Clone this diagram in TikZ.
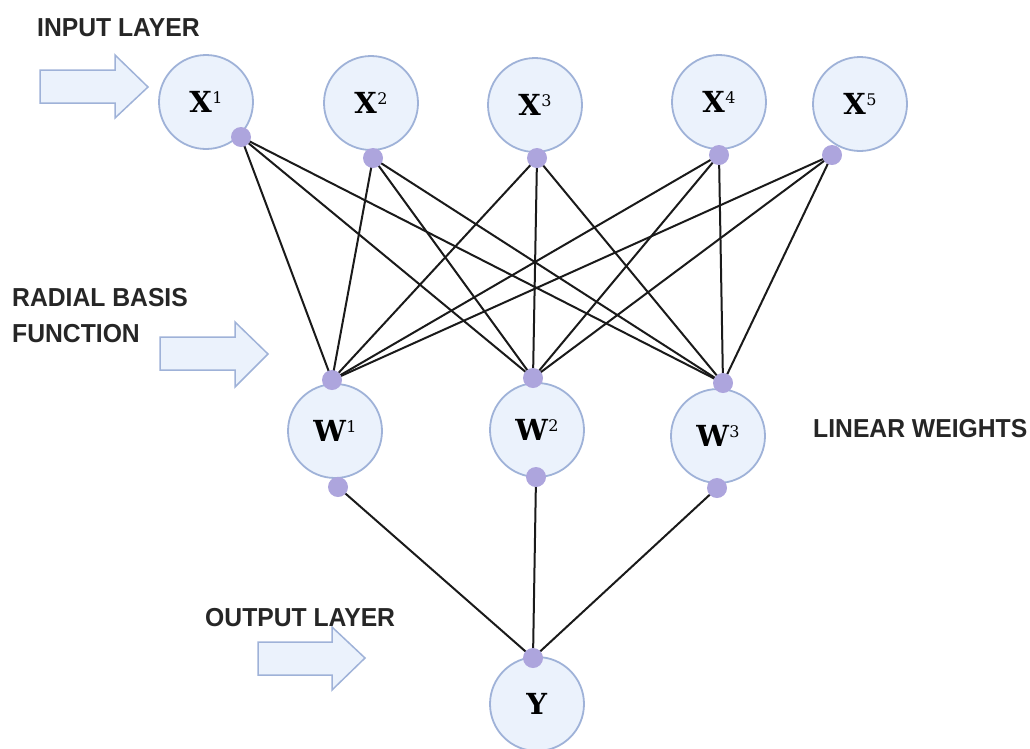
\documentclass[tikz,border=0pt]{standalone}
\usepackage{fontspec}
\setmainfont{Liberation Sans}
\newfontfamily\headfont[FakeStretch=0.95]{Liberation Sans Bold}
\newfontfamily\symfont{DejaVu Serif}
\usetikzlibrary{backgrounds}

\definecolor{cellfill}{HTML}{EBF2FC}
\definecolor{cellline}{HTML}{9FB2D8}
\definecolor{dotfill}{HTML}{ADA5DD}
\definecolor{wire}{HTML}{1A1A1A}
\definecolor{headtext}{HTML}{262626}

% neuron label: bold letter with a light raised index
\newcommand{\neur}[2]{{\symfont\bfseries\fontsize{29}{29}\selectfont #1}\kern0.5pt\raisebox{9.5pt}{\symfont\fontsize{16}{16}\selectfont #2}}

\tikzset{
  neuron/.style={circle, minimum size=94pt, inner sep=0pt, fill=cellfill, draw=cellline, line width=1.8pt},
  port/.style={circle, minimum size=20pt, inner sep=0pt, fill=dotfill},
  wirepath/.style={draw=wire, line width=2pt},
  heading/.style={anchor=base west, inner sep=0pt, text=headtext, font=\headfont\fontsize{26}{26}\selectfont},
  blockarrow/.style={fill=cellfill, draw=cellline, line width=1.5pt, line join=miter}
}

\begin{document}
\begin{tikzpicture}[x=1pt, y=-1pt]
\useasboundingbox (0,0) rectangle (1030,748);

% input layer
\node[neuron] (x1) at (206,102) {\neur{X}{1}};
\node[neuron] (x2) at (371,103) {\neur{X}{2}};
\node[neuron] (x3) at (535,105) {\neur{X}{3}};
\node[neuron] (x4) at (719,102) {\neur{X}{4}};
\node[neuron] (x5) at (860,104) {\neur{X}{5}};

% radial basis / weight layer
\node[neuron] (w1) at (335,431) {\neur{W}{1}};
\node[neuron] (w2) at (537,430) {\neur{W}{2}};
\node[neuron] (w3) at (718,436) {\neur{W}{3}};

% output
\node[neuron] (y) at (537,704) {\neur{Y}{}};

% connection ports
\node[port] (px1) at (241,137) {};
\node[port] (px2) at (373,158) {};
\node[port] (px3) at (537,158) {};
\node[port] (px4) at (719,155) {};
\node[port] (px5) at (832,155) {};
\node[port] (pw1t) at (332,380) {};
\node[port] (pw2t) at (533,378) {};
\node[port] (pw3t) at (723,383) {};
\node[port] (pw1b) at (338,487) {};
\node[port] (pw2b) at (536,477) {};
\node[port] (pw3b) at (717,488) {};
\node[port] (py) at (533,658) {};

% connections, kept behind the ports
\begin{scope}[on background layer]
  \foreach \i in {1,...,5}{
    \foreach \j in {1,2,3}{
      \draw[wirepath] (px\i.center) -- (pw\j t.center);
    }
  }
  \foreach \j in {1,2,3}{
    \draw[wirepath] (pw\j b.center) -- (py.center);
  }
\end{scope}

% block arrows
\draw[blockarrow] (40,70) -- (115,70) -- (115,55) -- (148,87) -- (115,118) -- (115,103) -- (40,103) -- cycle;
\draw[blockarrow] (160,337) -- (235,337) -- (235,322) -- (268,354) -- (235,387) -- (235,370) -- (160,370) -- cycle;
\draw[blockarrow] (258,642) -- (332,642) -- (332,627) -- (365,658) -- (332,690) -- (332,675) -- (258,675) -- cycle;

% headings
\node[heading] (tin) at (37,36) {INPUT LAYER};
\node[heading] (trbf1) at (12,306) {RADIAL BASIS};
\node[heading] (trbf2) at (12,342) {FUNCTION};
\node[heading] (tout) at (205,626) {OUTPUT LAYER};
\node[heading] (tlin) at (813,437) {LINEAR WEIGHTS};
\end{tikzpicture}
\end{document}
